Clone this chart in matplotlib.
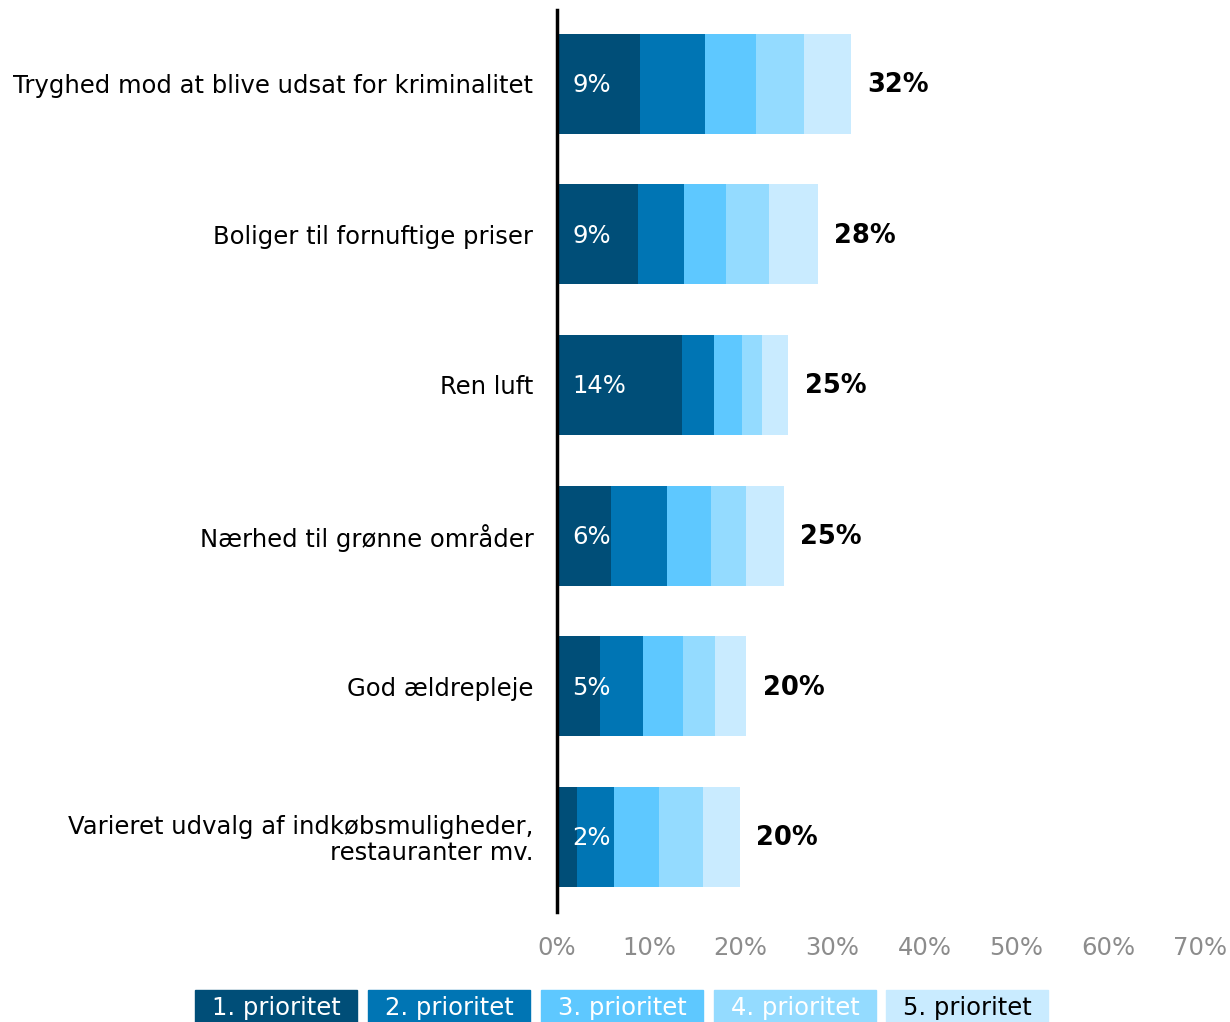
import numpy as np
import matplotlib
matplotlib.use('Agg')
import matplotlib.pyplot as plt
from matplotlib.patches import Rectangle

categories = [
    'Tryghed mod at blive udsat for kriminalitet',
    'Boliger til fornuftige priser',
    'Ren luft',
    'Nærhed til grønne områder',
    'God ældrepleje',
    'Varieret udvalg af indkøbsmuligheder,\nrestauranter mv.',
]
series_names = ['1. prioritet', '2. prioritet', '3. prioritet', '4. prioritet', '5. prioritet']
p1 = [9.0, 8.8, 13.6, 5.9, 4.7, 2.2]
p2 = [7.1, 5.0, 3.5, 6.1, 4.7, 4.0]
p3 = [5.6, 4.6, 3.0, 4.8, 4.3, 4.9]
p4 = [5.2, 4.7, 2.2, 3.8, 3.5, 4.8]
p5 = [5.1, 5.3, 2.9, 4.1, 3.4, 4.0]
first_labels = ['9%', '9%', '14%', '6%', '5%', '2%']
total_labels = ['32%', '28%', '25%', '25%', '20%', '20%']
x_ticks = [0, 10, 20, 30, 40, 50, 60, 70]

colors = ['#004E78', '#0075B4', '#5EC8FF', '#94DBFF', '#C9EBFF']
text_colors = ['white', 'white', 'white', 'white', 'black']

plt.rcParams['font.family'] = 'DejaVu Sans'
fs = 17.5

fig = plt.figure(figsize=(12.3, 10.22), dpi=100)
ax = fig.add_axes([557 / 1230, 1 - 912 / 1022, (1200 - 557) / 1230, (912 - 10) / 1022])

y = np.arange(len(categories))
left = np.zeros(len(categories))
for vals, c in zip([p1, p2, p3, p4, p5], colors):
    ax.barh(y, vals, left=left, height=0.664, color=c, edgecolor='none')
    left += np.array(vals)

for i in range(len(categories)):
    ax.text(1.7, y[i] + 0.01, first_labels[i], color='white', fontsize=fs, va='center', ha='left')
    ax.text(left[i] + 1.8, y[i] + 0.01, total_labels[i], color='black', fontsize=fs + 1,
            fontweight='bold', va='center', ha='left')

ax.set_xlim(0, 70)
ax.set_ylim(5.5, -0.49)
ax.set_yticks(y)
ax.set_yticklabels(categories, fontsize=fs, linespacing=1.1)
ax.set_xticks(x_ticks)
ax.set_xticklabels([f'{t}%' for t in x_ticks], fontsize=fs, color='#8C8C8C')
ax.tick_params(axis='both', length=0)
ax.tick_params(axis='y', pad=17)
ax.tick_params(axis='x', pad=17)
for s in ['top', 'right', 'bottom']:
    ax.spines[s].set_visible(False)
ax.spines['left'].set_linewidth(2.5)
ax.spines['left'].set_color('black')

# legend as coloured boxes with text inside
box_x = [195, 368, 541, 714, 886]
for bx, name, c, tc in zip(box_x, series_names, colors, text_colors):
    fig.patches.append(Rectangle((bx / 1230, 0), 162 / 1230, 32 / 1022,
                                 transform=fig.transFigure, color=c))
    fig.text((bx + 81) / 1230, 1 - 1008 / 1022, name, color=tc, fontsize=fs,
             ha='center', va='center')

fig.savefig('out.png', dpi=100)
